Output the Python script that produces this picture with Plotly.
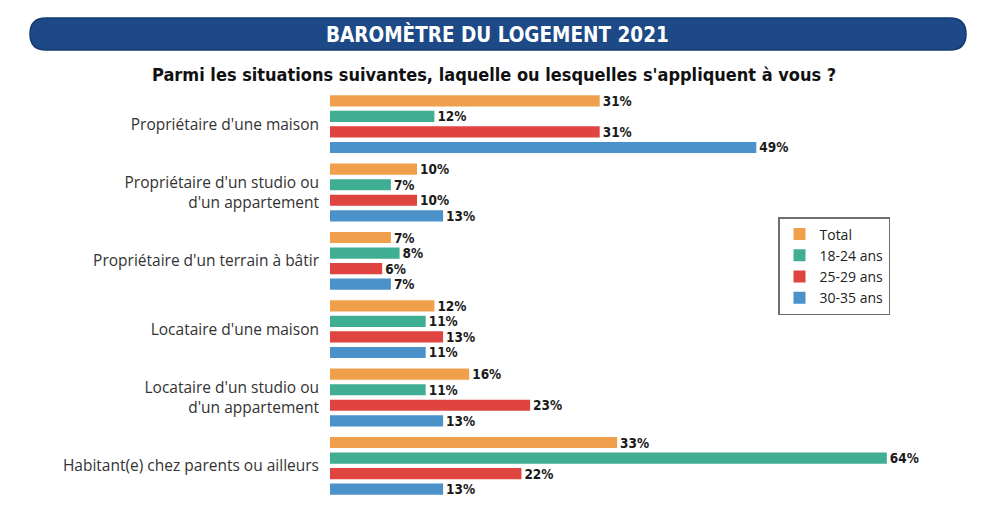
import plotly.graph_objects as go

categories = [
    "Propriétaire d'une maison",
    "Propriétaire d'un studio ou<br>d'un appartement",
    "Propriétaire d'un terrain à bâtir",
    "Locataire d'une maison",
    "Locataire d'un studio ou<br>d'un appartement",
    "Habitant(e) chez parents ou ailleurs",
]
series_names = ["Total", "18-24 ans", "25-29 ans", "30-35 ans"]
total = [31, 10, 7, 12, 16, 33]
age_18_24 = [12, 7, 8, 11, 11, 64]
age_25_29 = [31, 10, 6, 13, 23, 22]
age_30_35 = [49, 13, 7, 11, 13, 13]
series_values = [total, age_18_24, age_25_29, age_30_35]
colors = ["#f0a04c", "#3fae93", "#df4440", "#4b91ca"]

title_text = "BAROMÈTRE DU LOGEMENT 2021"
subtitle_text = "Parmi les situations suivantes, laquelle ou lesquelles s'appliquent à vous ?"

W, H = 990, 512
ML, MR, MT, MB = 330, 8, 90, 12
PW, PH = W - ML - MR, H - MT - MB
COND = "Liberation Sans Narrow, DejaVu Sans Condensed, sans-serif"

fig = go.Figure()
for name, vals, col in zip(series_names, series_values, colors):
    fig.add_trace(go.Bar(
        y=categories, x=vals, name=name, orientation="h",
        marker=dict(color=col, line=dict(width=0)),
        texttemplate="%{x}%", textposition="outside",
        textfont=dict(family=COND, size=13.5, color="#1a1a1a", weight="bold"),
        constraintext="none", cliponaxis=False,
    ))

def px_x(p):
    return (p - ML) / PW

def px_y(p):
    return (H - MB - p) / PH

# rounded banner path in paper coords
bx0, bx1, by0, by1 = 30, 966, 18, 50
r = (by1 - by0) / 2
path = (
    f"M {px_x(bx0 + r)} {px_y(by0)} L {px_x(bx1 - r)} {px_y(by0)} "
    f"Q {px_x(bx1)} {px_y(by0)} {px_x(bx1)} {px_y(by0 + r)} "
    f"Q {px_x(bx1)} {px_y(by1)} {px_x(bx1 - r)} {px_y(by1)} "
    f"L {px_x(bx0 + r)} {px_y(by1)} "
    f"Q {px_x(bx0)} {px_y(by1)} {px_x(bx0)} {px_y(by0 + r)} "
    f"Q {px_x(bx0)} {px_y(by0)} {px_x(bx0 + r)} {px_y(by0)} Z"
)
fig.add_shape(type="path", xref="paper", yref="paper", path=path,
              fillcolor="#1d4a87", line=dict(color="#143a6e", width=1.5), layer="below")

fig.add_annotation(text=title_text, xref="paper", yref="paper",
                   x=px_x(497), y=px_y(34), showarrow=False,
                   xanchor="center", yanchor="middle",
                   font=dict(family=COND, size=20.5, color="white", weight="bold"))
fig.add_annotation(text=subtitle_text, xref="paper", yref="paper",
                   x=px_x(494), y=px_y(75), showarrow=False,
                   xanchor="center", yanchor="middle",
                   font=dict(family=COND, size=18, color="#111111", weight="bold"))

fig.update_layout(
    width=W, height=H,
    margin=dict(l=ML, r=MR, t=MT, b=MB),
    paper_bgcolor="white", plot_bgcolor="white",
    barmode="group", bargap=0.09, bargroupgap=0.28,
    showlegend=True,
    legend=dict(x=px_x(778), y=px_y(217), xanchor="left", yanchor="top",
                bordercolor="#6e6e6e", borderwidth=1.5, bgcolor="white",
                font=dict(family="Open Sans, sans-serif", size=14, color="#222"),
                itemwidth=30, traceorder="normal"),
    font=dict(family="Open Sans, sans-serif"),
)
fig.update_xaxes(range=[0, PW / 8.7], showgrid=False, zeroline=False,
                 showticklabels=False, showline=False)
fig.update_yaxes(autorange="reversed", showgrid=False, zeroline=False, showline=False,
                 tickfont=dict(family="Open Sans, sans-serif", size=15.5, color="#333333"),
                 ticklabelstandoff=10)

fig.write_html("out.html")
